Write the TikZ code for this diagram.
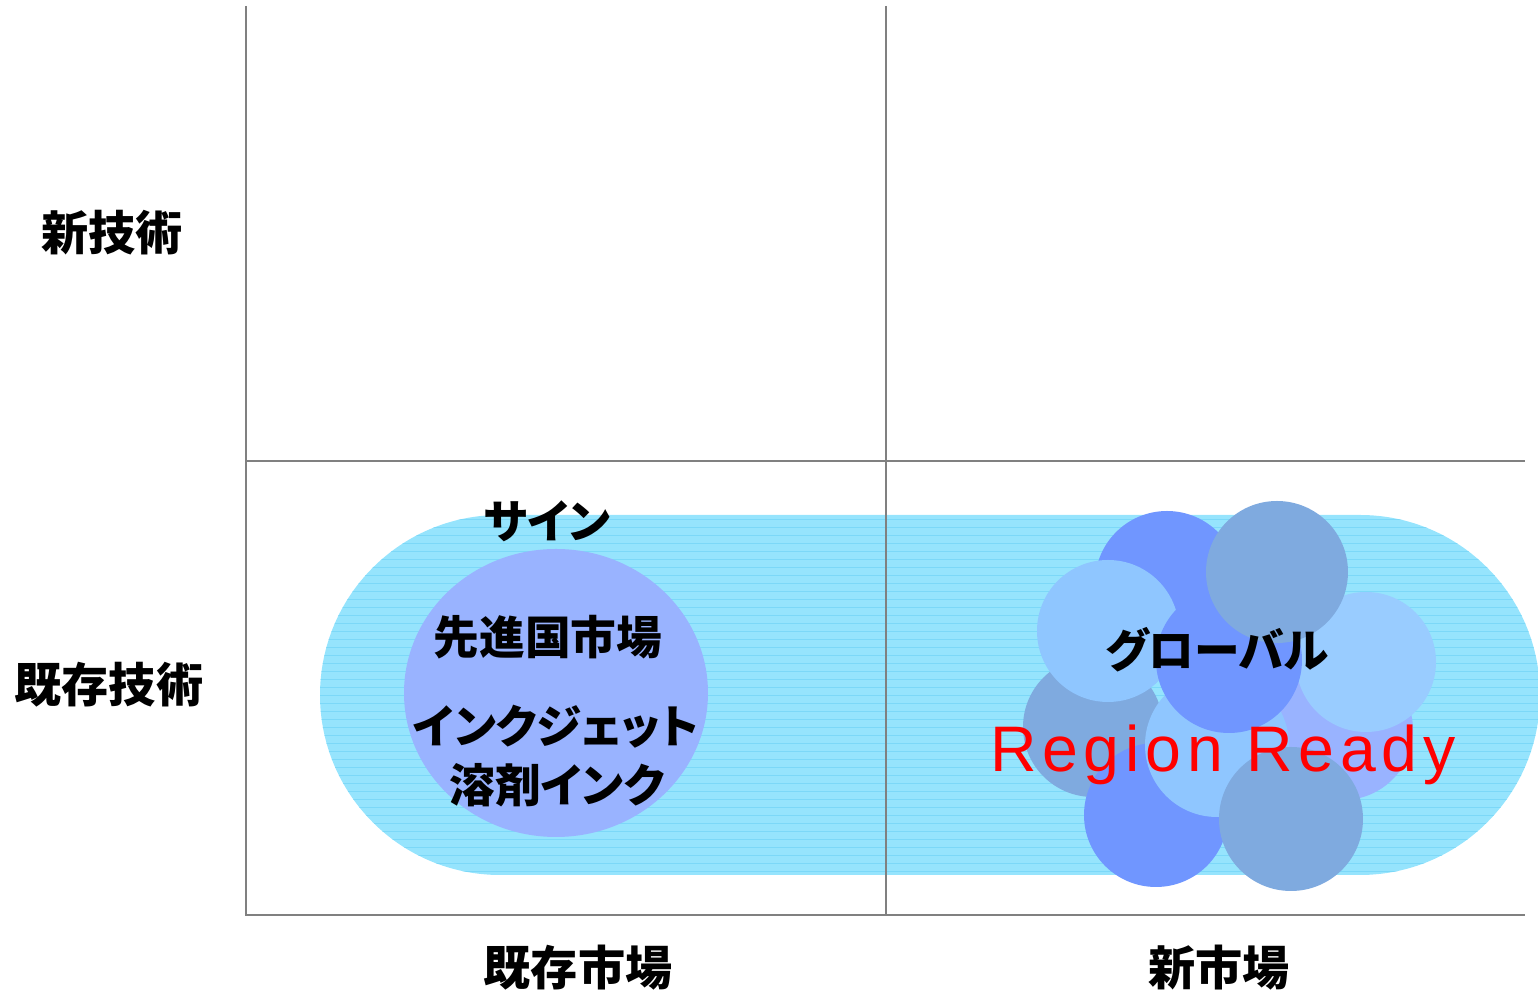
\documentclass[tikz,border=0pt]{standalone}
\usepackage{fontspec}
\usepackage{tikz}
\usepackage{xcolor}
\newfontfamily\jpfont{Noto Sans CJK JP}[RawFeature=+palt]
\newfontfamily\latinfont{Liberation Sans}[LetterSpace=9]

\definecolor{pillcyan}{RGB}{150,228,253}
\definecolor{pillline}{RGB}{124,216,248}
\definecolor{periwinkle}{RGB}{153,179,255}
\definecolor{brightblue}{RGB}{112,150,255}
\definecolor{grayblue}{RGB}{127,170,223}
\definecolor{lightblue}{RGB}{143,198,255}
\definecolor{paleblue}{RGB}{153,204,255}

\tikzset{
    axislabel/.style={font=\jpfont\bfseries\fontsize{13.4}{16}\selectfont, inner sep=0pt},
    celllabel/.style={font=\jpfont\bfseries\fontsize{13}{16}\selectfont, inner sep=0pt},
    gridline/.style={draw=gray, line width=0.7pt}
}

\begin{document}
\begin{tikzpicture}[x=0.01cm, y=-0.01cm]

    \useasboundingbox (0, 0) rectangle (1538, 992);

    \fill[pillcyan, rounded corners=51.2] (320, 515) rectangle (1540, 875);
    \begin{scope}
        \clip[rounded corners=51.2] (320, 515) rectangle (1540, 875);
        \foreach \y in {519,527,...,875} {
            \draw[pillline, line width=0.25pt] (300, \y) -- (1560, \y);
        }
    \end{scope}

    \fill[periwinkle] (556, 693) ellipse (152 and 144);

    \fill[grayblue] (1093, 727) circle (70);
    \fill[periwinkle] (1343, 730) circle (70);
    \fill[brightblue] (1156, 815) circle (72);
    \fill[lightblue] (1217, 745) circle (72);
    \fill[grayblue] (1291, 819) circle (72);
    \fill[brightblue] (1167, 583) circle (72);
    \fill[lightblue] (1108, 631) circle (71);
    \fill[paleblue] (1366, 662) circle (70);
    \fill[brightblue] (1229, 660) circle (73);
    \fill[grayblue] (1277, 572) circle (71);

    \draw[gridline] (246, 6) -- (246, 915) -- (1525, 915);
    \draw[gridline] (886, 6) -- (886, 915);
    \draw[gridline] (246, 461) -- (1525, 461);

    \node[axislabel] (newtech) at (112, 233) {新技術};
    \node[axislabel] (oldtech) at (109, 685) {既存技術};
    \node[axislabel] (oldmarket) at (578, 968) {既存市場};
    \node[axislabel] (newmarket) at (1219, 968) {新市場};

    \node[celllabel] (sign) at (547, 521) {サイン};
    \node[celllabel] (advanced) at (548, 637) {先進国市場};
    \node[celllabel] (inkjet) at (556, 727) {インクジェット};
    \node[celllabel] (solvent) at (557, 785) {溶剤インク};
    \node[celllabel] (global) at (1217, 650) {グローバル};
    \node[inner sep=0pt, text=red, font=\latinfont\fontsize{18.3}{20}\selectfont] (ready) at (1223, 755) {Region Ready};

\end{tikzpicture}
\end{document}
